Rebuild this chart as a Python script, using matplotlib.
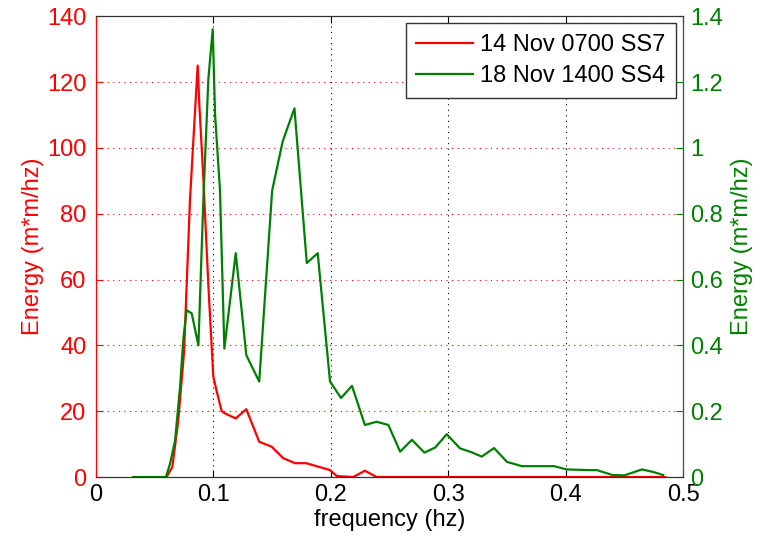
import matplotlib.pyplot as plt
from matplotlib.ticker import FormatStrFormatter

plt.rcParams['font.family'] = ['Liberation Sans', 'DejaVu Sans']

# 14 Nov 0700 SS7 (left axis)
freq_ss7 = [0.060, 0.065, 0.070, 0.075, 0.080, 0.0843, 0.0866, 0.0880, 0.0914,
            0.0957, 0.0999, 0.1028, 0.107, 0.1099, 0.119, 0.128, 0.139, 0.1496,
            0.1595, 0.1695, 0.179, 0.1993, 0.205, 0.219, 0.229, 0.239, 0.30,
            0.40, 0.485]
energy_ss7 = [0, 3, 17, 38, 84, 111, 125, 113, 91,
              58, 30.5, 26, 20, 19.3, 17.8, 20.6, 10.7, 9.2,
              5.7, 4.2, 4.2, 2.1, 0.3, 0, 1.9, 0, 0,
              0, 0]

# 18 Nov 1400 SS4 (right axis)
freq_ss4 = [0.0315, 0.0596, 0.063, 0.0673, 0.0715, 0.0744, 0.0772, 0.0815, 0.0872,
            0.0915, 0.0957, 0.0994, 0.1014, 0.1056, 0.1093, 0.119, 0.128, 0.139,
            0.150, 0.159, 0.169, 0.1795, 0.1888, 0.1993, 0.2087, 0.218, 0.229,
            0.239, 0.249, 0.259, 0.269, 0.2797, 0.289, 0.2987, 0.31, 0.32,
            0.3285, 0.339, 0.35, 0.3626, 0.37, 0.38, 0.39, 0.401, 0.41,
            0.42, 0.4265, 0.44, 0.45, 0.465, 0.475, 0.483]
energy_ss4 = [0, 0, 0.04, 0.11, 0.27, 0.42, 0.507, 0.497, 0.40,
              0.85, 1.21, 1.36, 1.10, 0.87, 0.39, 0.68, 0.37, 0.29,
              0.87, 1.02, 1.12, 0.65, 0.68, 0.29, 0.24, 0.277, 0.158,
              0.168, 0.158, 0.077, 0.113, 0.074, 0.090, 0.13, 0.087, 0.075,
              0.062, 0.088, 0.046, 0.033, 0.033, 0.033, 0.033, 0.023, 0.022,
              0.021, 0.021, 0.006, 0.005, 0.023, 0.015, 0.006]

x_ticks = [0, 0.1, 0.2, 0.3, 0.4, 0.5]
left_ticks = [0, 20, 40, 60, 80, 100, 120, 140]
right_ticks = [0, 0.2, 0.4, 0.6, 0.8, 1.0, 1.2, 1.4]

fs = 17

fig = plt.figure(figsize=(7.59, 5.39), dpi=100)
ax = fig.add_axes([0.1265, 0.115, 0.7735, 0.855])
ax2 = ax.twinx()

l1, = ax.plot(freq_ss7, energy_ss7, color='red', lw=1.6, label='14 Nov 0700 SS7')
l2, = ax2.plot(freq_ss4, energy_ss4, color='green', lw=1.6, label='18 Nov 1400 SS4')

ax.set_xlim(0, 0.5)
ax.set_ylim(0, 140)
ax2.set_ylim(0, 1.4)
ax.set_xticks(x_ticks)
ax.set_yticks(left_ticks)
ax2.set_yticks(right_ticks)
ax.xaxis.set_major_formatter(FormatStrFormatter('%g'))
ax2.yaxis.set_major_formatter(FormatStrFormatter('%g'))

ax.yaxis.grid(True, color='red', linestyle=(0, (1, 4)), lw=0.8)
ax.xaxis.grid(True, color='black', linestyle=(0, (1, 4)), lw=0.8)

ax.tick_params(axis='x', direction='in', top=True, labelsize=fs, length=5, pad=5)
ax.tick_params(axis='y', direction='in', colors='red', labelsize=fs, length=5, pad=7)
ax2.tick_params(axis='y', direction='in', colors='green', labelsize=fs, length=5, pad=5)

ax.spines['left'].set_color('red')
ax2.spines['left'].set_color('red')
ax2.spines['right'].set_color('green')
for a in (ax, ax2):
    a.spines['top'].set_color('#333333')
    a.spines['bottom'].set_color('#333333')

ax.set_xlabel('frequency (hz)', fontsize=fs, labelpad=2)
ax.set_ylabel('Energy (m*m/hz)', fontsize=fs, color='red', labelpad=2)
ax2.set_ylabel('Energy (m*m/hz)', fontsize=fs, color='green', labelpad=6)

leg = ax2.legend([l1, l2], [l1.get_label(), l2.get_label()], loc='upper right',
                 fontsize=fs, fancybox=False, edgecolor='#333333', framealpha=1,
                 borderaxespad=0.3, handlelength=2.4, handletextpad=0.3,
                 labelspacing=0.4, borderpad=0.45)
leg.get_frame().set_linewidth(1.0)

fig.savefig('out.png', dpi=100)
